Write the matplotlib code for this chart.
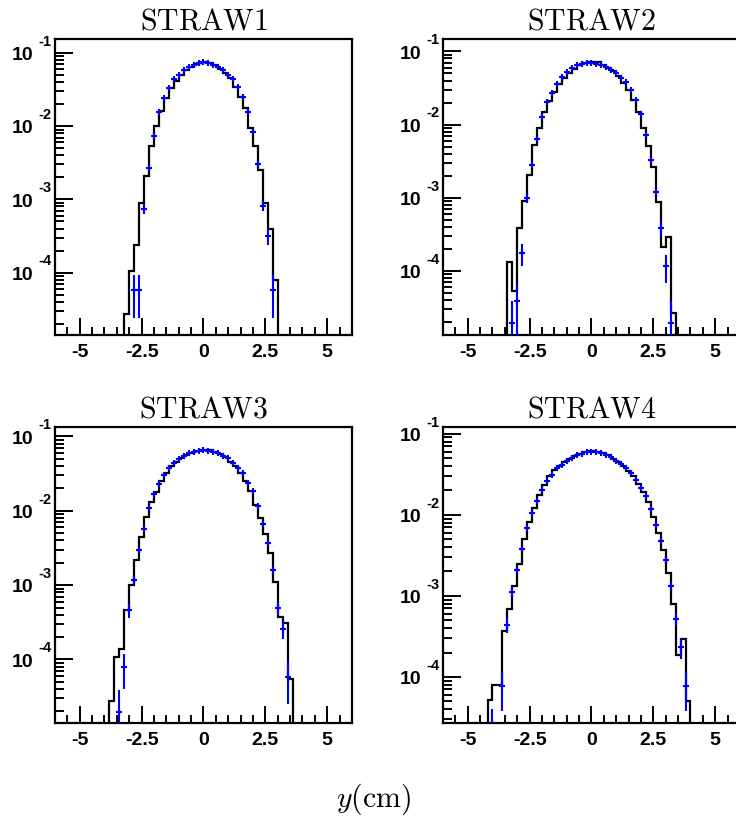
import numpy as np
import matplotlib.pyplot as plt
from matplotlib.ticker import LogLocator, MultipleLocator, NullFormatter

plt.rcParams['mathtext.fontset'] = 'cm'
plt.rcParams['axes.unicode_minus'] = False

titulos = ['STRAW1', 'STRAW2', 'STRAW3', 'STRAW4']

# histograma negro: primer borde y contenido de cada bin (ancho 0.2 cm)
borde0 = [-3.2, -3.4, -3.8, -4.2]
ancho = 0.2
h1 = [2.7e-5, 1.05e-4, 2.4e-4, 9.0e-4, 2.1e-3, 5.4e-3, 1.0e-2, 1.6e-2, 2.4e-2, 3.3e-2,
      4.2e-2, 5.0e-2, 5.8e-2, 6.5e-2, 7.0e-2, 7.4e-2, 7.5e-2, 7.3e-2, 6.8e-2, 6.0e-2,
      5.3e-2, 4.5e-2, 3.4e-2, 2.5e-2, 1.75e-2, 9.5e-3, 5.4e-3, 2.5e-3, 8.8e-4, 3.9e-4, 8.0e-5]
h2 = [1.34e-4, 5.3e-5, 3.9e-4, 9.0e-4, 2.08e-3, 5.2e-3, 9.0e-3, 1.47e-2, 2.08e-2, 2.76e-2,
      3.59e-2, 4.34e-2, 5.07e-2, 5.75e-2, 6.59e-2, 6.94e-2, 7.16e-2, 7.24e-2, 7.1e-2, 6.6e-2,
      5.93e-2, 5.34e-2, 4.66e-2, 3.7e-2, 3.0e-2, 2.19e-2, 1.47e-2, 9.0e-3, 5.1e-3, 2.65e-3,
      8.7e-4, 2.1e-4, 2.9e-4, 2.7e-5]
h3 = [2.74e-5, 1.08e-4, 1.40e-4, 4.7e-4, 1.0e-3, 2.18e-3, 4.5e-3, 8.2e-3, 1.33e-2, 1.81e-2,
      2.53e-2, 3.21e-2, 3.95e-2, 4.6e-2, 5.1e-2, 5.55e-2, 5.96e-2, 6.28e-2, 6.55e-2, 6.6e-2,
      6.5e-2, 6.2e-2, 5.8e-2, 5.3e-2, 4.6e-2, 3.95e-2, 3.2e-2, 2.5e-2, 1.82e-2, 1.2e-2,
      7.9e-3, 4.8e-3, 2.68e-3, 1.11e-3, 3.75e-4, 3.05e-4, 5.5e-5]
h4 = [5.25e-5, 8.0e-5, 8.0e-5, 3.7e-4, 6.95e-4, 1.33e-3, 2.5e-3, 5.0e-3, 8.2e-3, 1.23e-2,
      1.76e-2, 2.34e-2, 2.97e-2, 3.58e-2, 4.0e-2, 4.45e-2, 4.9e-2, 5.3e-2, 5.6e-2, 5.9e-2,
      6.05e-2, 6.16e-2, 6.0e-2, 5.77e-2, 5.4e-2, 4.9e-2, 4.46e-2, 4.0e-2, 3.5e-2, 3.0e-2,
      2.4e-2, 1.9e-2, 1.42e-2, 9.5e-3, 6.0e-3, 3.7e-3, 1.9e-3, 8.0e-4, 1.84e-4, 2.9e-4, 5.1e-5]

# puntos azules con barras de error
x1 = [-2.8, -2.6, -2.4, -2.2, -2.0, -1.8, -1.6, -1.4, -1.2, -1.0, -0.8, -0.6, -0.4, -0.2, 0.0,
      0.2, 0.4, 0.6, 0.8, 1.0, 1.2, 1.4, 1.6, 1.8, 2.0, 2.2, 2.4, 2.6, 2.8]
y1 = [5.8e-5, 5.8e-5, 7.5e-4, 2.66e-3, 7.4e-3, 1.54e-2, 2.42e-2, 3.32e-2, 4.4e-2, 5.05e-2,
      5.8e-2, 6.4e-2, 6.85e-2, 7.3e-2, 7.45e-2, 7.3e-2, 6.8e-2, 6.4e-2, 5.8e-2, 5.0e-2,
      4.45e-2, 3.42e-2, 2.49e-2, 1.54e-2, 8.45e-3, 3.05e-3, 8.2e-4, 3.2e-4, 5.8e-5]
e1 = [3.4e-5, 3.4e-5, 1.21e-4, 2.28e-4, 3.8e-4, 5.5e-4, 6.9e-4, 8.0e-4, 9.3e-4, 9.9e-4,
      1.06e-3, 1.12e-3, 1.16e-3, 1.19e-3, 1.2e-3, 1.19e-3, 1.15e-3, 1.12e-3, 1.06e-3, 9.9e-4,
      9.3e-4, 8.2e-4, 7.0e-4, 5.5e-4, 4.1e-4, 2.4e-4, 1.26e-4, 7.9e-5, 3.4e-5]

x2 = [-3.2, -3.0, -2.8, -2.6, -2.4, -2.2, -2.0, -1.8, -1.6, -1.4, -1.2, -1.0, -0.8, -0.6, -0.4,
      -0.2, 0.0, 0.2, 0.4, 0.6, 0.8, 1.0, 1.2, 1.4, 1.6, 1.8, 2.0, 2.2, 2.4, 2.6, 2.8, 3.0, 3.2]
y2 = [1.97e-5, 3.9e-5, 1.74e-4, 1.0e-3, 2.85e-3, 6.4e-3, 1.27e-2, 2.04e-2, 2.7e-2, 3.62e-2,
      4.42e-2, 5.18e-2, 5.9e-2, 6.44e-2, 6.7e-2, 6.9e-2, 6.9e-2, 6.8e-2, 6.6e-2, 6.1e-2,
      5.6e-2, 5.07e-2, 4.33e-2, 3.78e-2, 2.94e-2, 2.15e-2, 1.4e-2, 7.1e-3, 3.33e-3, 1.21e-3,
      3.9e-4, 1.17e-4, 1.97e-5]
e2 = [1.96e-5, 2.8e-5, 5.8e-5, 1.4e-4, 2.4e-4, 3.5e-4, 5.0e-4, 6.3e-4, 7.3e-4, 8.4e-4,
      9.3e-4, 1.0e-3, 1.07e-3, 1.12e-3, 1.14e-3, 1.16e-3, 1.16e-3, 1.15e-3, 1.13e-3, 1.09e-3,
      1.04e-3, 9.9e-4, 9.2e-4, 8.6e-4, 7.6e-4, 6.5e-4, 5.2e-4, 3.7e-4, 2.5e-4, 1.5e-4,
      8.7e-5, 4.8e-5, 1.96e-5]

x3 = [-3.4, -3.2, -3.0, -2.8, -2.6, -2.4, -2.2, -2.0, -1.8, -1.6, -1.4, -1.2, -1.0, -0.8, -0.6,
      -0.4, -0.2, 0.0, 0.2, 0.4, 0.6, 0.8, 1.0, 1.2, 1.4, 1.6, 1.8, 2.0, 2.2, 2.4, 2.6, 2.8,
      3.0, 3.2, 3.4]
y3 = [1.97e-5, 7.9e-5, 4.6e-4, 1.19e-3, 2.97e-3, 5.7e-3, 1.1e-2, 1.69e-2, 2.3e-2, 3.04e-2,
      3.74e-2, 4.37e-2, 4.96e-2, 5.5e-2, 5.96e-2, 6.2e-2, 6.4e-2, 6.48e-2, 6.4e-2, 6.2e-2,
      5.96e-2, 5.5e-2, 5.1e-2, 4.45e-2, 3.82e-2, 3.2e-2, 2.4e-2, 1.82e-2, 1.17e-2, 6.7e-3,
      3.7e-3, 1.6e-3, 5.0e-4, 2.6e-4, 5.9e-5]
e3 = [1.96e-5, 3.9e-5, 9.5e-5, 1.5e-4, 2.4e-4, 3.3e-4, 4.6e-4, 5.7e-4, 6.7e-4, 7.7e-4,
      8.5e-4, 9.2e-4, 9.8e-4, 1.04e-3, 1.08e-3, 1.1e-3, 1.12e-3, 1.12e-3, 1.12e-3, 1.1e-3,
      1.08e-3, 1.04e-3, 1.0e-3, 9.3e-4, 8.6e-4, 7.9e-4, 6.8e-4, 6.0e-4, 4.8e-4, 3.6e-4,
      2.7e-4, 1.8e-4, 9.9e-5, 7.1e-5, 3.4e-5]

x4 = [-4.0, -3.6, -3.4, -3.2, -3.0, -2.8, -2.6, -2.4, -2.2, -2.0, -1.8, -1.6, -1.4, -1.2, -1.0,
      -0.8, -0.6, -0.4, -0.2, 0.0, 0.2, 0.4, 0.6, 0.8, 1.0, 1.2, 1.4, 1.6, 1.8, 2.0, 2.2, 2.4,
      2.6, 2.8, 3.0, 3.2, 3.4, 3.6, 3.8]
y4 = [2.0e-5, 7.7e-5, 4.4e-4, 1.12e-3, 2.07e-3, 3.74e-3, 6.8e-3, 1.04e-2, 1.5e-2, 2.03e-2,
      2.62e-2, 3.11e-2, 3.76e-2, 4.13e-2, 4.6e-2, 5.0e-2, 5.4e-2, 5.7e-2, 5.9e-2, 6.0e-2,
      5.95e-2, 5.8e-2, 5.5e-2, 5.1e-2, 4.65e-2, 4.2e-2, 3.76e-2, 3.26e-2, 2.7e-2, 2.13e-2,
      1.71e-2, 1.18e-2, 7.5e-3, 4.8e-3, 2.8e-3, 1.33e-3, 5.2e-4, 2.33e-4, 7.7e-5]
e4 = [1.99e-5, 3.9e-5, 9.3e-5, 1.5e-4, 2.0e-4, 2.7e-4, 3.6e-4, 4.5e-4, 5.4e-4, 6.3e-4,
      7.1e-4, 7.8e-4, 8.6e-4, 9.0e-4, 9.5e-4, 9.9e-4, 1.03e-3, 1.05e-3, 1.07e-3, 1.08e-3,
      1.08e-3, 1.06e-3, 1.04e-3, 1.0e-3, 9.5e-4, 9.0e-4, 8.6e-4, 8.0e-4, 7.3e-4, 6.4e-4,
      5.8e-4, 4.8e-4, 3.8e-4, 3.1e-4, 2.3e-4, 1.6e-4, 1.0e-4, 6.7e-5, 3.9e-5]

hists = [h1, h2, h3, h4]
puntos = [(x1, y1, e1), (x2, y2, e2), (x3, y3, e3), (x4, y4, e4)]

# rango vertical de cada panel (exponentes)
ylims = [(-4.853, -0.808), (-4.873, -0.831), (-4.854, -0.873), (-4.568, -0.917)]

# posiciones de los paneles en fraccion de figura
pos = [[0.0747, 0.592, 0.4035, 0.3605], [0.6019, 0.592, 0.4035, 0.3605],
       [0.0747, 0.1194, 0.4035, 0.3605], [0.6019, 0.1194, 0.4035, 0.3605]]

fig = plt.figure(figsize=(7.36, 8.21), dpi=100)
fuente = 'Liberation Sans'

for i in range(4):
    ax = fig.add_axes(pos[i])
    ax.set_yscale('log')
    vals = hists[i]
    bordes = borde0[i] + ancho * np.arange(len(vals) + 1)
    ax.stairs(vals, bordes, baseline=1e-9, color='black', linewidth=1.6, zorder=2)
    xs, ys, es = puntos[i]
    ax.errorbar(xs, ys, yerr=es, fmt='+', color='blue', ms=4.5, mew=1.5,
                elinewidth=1.5, capsize=0, zorder=3)

    ax.set_xlim(-6, 6)
    ax.set_ylim(10 ** ylims[i][0], 10 ** ylims[i][1])

    ax.set_xticks([-5, -2.5, 0, 2.5, 5], ['-5', '-2.5', '0', '2.5', '5'])
    ax.xaxis.set_minor_locator(MultipleLocator(0.5))
    ax.yaxis.set_major_locator(LogLocator(base=10, numticks=20))
    ax.yaxis.set_minor_locator(LogLocator(base=10, subs=np.arange(2, 10), numticks=20))
    ax.yaxis.set_major_formatter(NullFormatter())
    ax.yaxis.set_minor_formatter(NullFormatter())

    ax.tick_params(which='both', direction='in', top=False, right=False, width=1.4)
    ax.tick_params(axis='x', which='major', length=12.5, pad=6.5)
    ax.tick_params(axis='x', which='minor', length=6)
    ax.tick_params(axis='y', which='major', length=13)
    ax.tick_params(axis='y', which='minor', length=6.5)
    for lab in ax.get_xticklabels():
        lab.set_fontfamily(fuente)
        lab.set_fontweight('bold')
        lab.set_fontsize(14)
    for sp in ax.spines.values():
        sp.set_linewidth(1.6)

    # etiquetas del eje y al estilo ROOT: 10 con exponente
    tr = ax.get_yaxis_transform()
    for d in [-1, -2, -3, -4]:
        if ylims[i][0] < d < ylims[i][1]:
            ax.annotate('10', xy=(-0.074, 10.0 ** d), xycoords=tr, xytext=(0, -2),
                        textcoords='offset points', ha='right', va='center',
                        fontsize=14, fontweight='bold', family=fuente)
            ax.annotate(str(d), xy=(-0.074, 10.0 ** d), xycoords=tr, xytext=(4, 8),
                        textcoords='offset points', ha='left', va='center',
                        fontsize=10.5, fontweight='bold', family=fuente)

    ax.set_title(r'$\mathrm{' + titulos[i] + '}$', fontsize=21.5, pad=7)

fig.text(0.507, 0.026, r'$y(\mathrm{cm})$', fontsize=21.5, ha='center', va='center')

plt.savefig('out.png', dpi=100)
